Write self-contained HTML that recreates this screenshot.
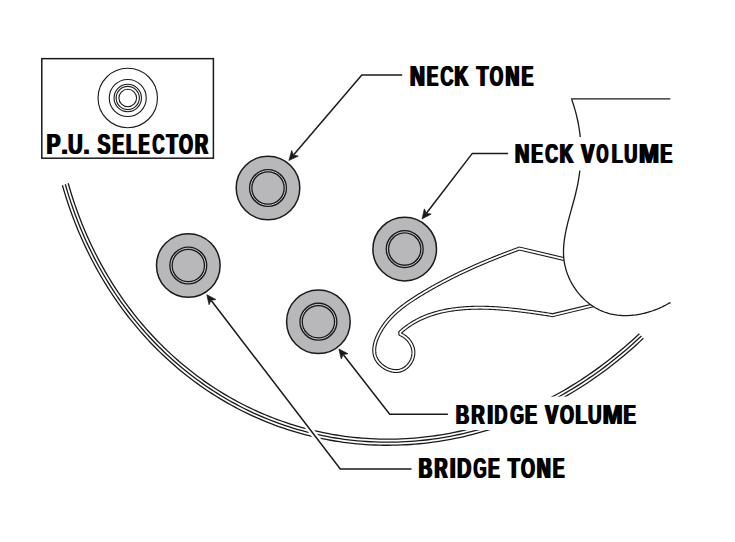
<!DOCTYPE html>
<html><head><meta charset="utf-8"><style>
html,body{margin:0;padding:0;background:#fff;width:735px;height:542px;overflow:hidden}
svg{display:block}
text{font-family:"Liberation Sans",sans-serif;font-weight:bold}
</style></head><body>
<svg width="735" height="542" viewBox="0 0 735 542">
<rect width="735" height="542" fill="#fff"/>
<path d="M68.18 183.23 L69.49 187.76 L70.84 192.27 L72.25 196.75 L73.71 201.21 L75.22 205.65 L76.77 210.06 L78.38 214.45 L80.04 218.81 L81.74 223.15 L83.50 227.46 L85.30 231.73 L87.16 235.99 L89.06 240.21 L91.01 244.40 L93.00 248.56 L95.05 252.69 L97.14 256.79 L99.28 260.86 L101.46 264.89 L103.69 268.89 L105.97 272.85 L108.29 276.79 L110.66 280.68 L113.07 284.54 L115.53 288.37 L118.03 292.15 L120.58 295.90 L123.16 299.61 L125.80 303.29 L128.47 306.92 L131.19 310.51 L133.94 314.07 L136.74 317.58 L139.58 321.05 L142.46 324.48 L145.39 327.87 L148.35 331.22 L151.35 334.52 L154.39 337.78 L157.46 340.99 L160.58 344.16 L163.73 347.29 L166.92 350.37 L170.15 353.40 L173.41 356.38 L176.71 359.32 L180.04 362.22 L183.41 365.06 L186.81 367.86 L190.25 370.60 L193.72 373.30 L197.22 375.95 L200.76 378.55 L204.32 381.10 L207.92 383.60 L211.54 386.04 L215.20 388.44 L218.89 390.78 L222.60 393.08 L226.35 395.32 L230.12 397.50 L233.92 399.64 L237.74 401.72 L241.59 403.75 L245.47 405.72 L249.37 407.64 L253.30 409.50 L257.25 411.31 L261.23 413.07 L265.22 414.77 L269.24 416.41 L273.28 418.00 L277.34 419.54 L281.42 421.01 L285.53 422.43 L289.65 423.80 L293.78 425.10 L297.94 426.35 L302.12 427.54 L306.31 428.68 L310.51 429.75 L314.74 430.77 L318.97 431.74 L323.22 432.64 L327.49 433.48 L331.77 434.27 L336.06 435.00 L340.36 435.67 L344.67 436.28 L348.99 436.83 L353.33 437.33 L357.67 437.76 L362.02 438.14 L366.38 438.46 L370.74 438.72 L375.12 438.92 L379.49 439.06 L383.88 439.14 L388.26 439.16 L392.66 439.12 L397.05 439.03 L401.45 438.87 L405.85 438.66 L410.25 438.38 L414.65 438.05 L419.06 437.66 L423.46 437.21 L427.86 436.70 L432.26 436.13 L436.65 435.50 L441.05 434.82 L445.44 434.08 L449.82 433.27 L454.20 432.41 L458.58 431.49 L462.94 430.52 L467.30 429.48 L471.66 428.39 L476.00 427.24 L480.34 426.04 L484.67 424.77 L488.98 423.45 L493.29 422.07 L497.58 420.64 L501.86 419.15 L506.13 417.60 L510.39 416.00 L514.63 414.34 L518.86 412.63 L523.07 410.86 L527.27 409.03 L531.45 407.15 L535.61 405.22 L539.75 403.23 L543.88 401.19 L547.99 399.10 L552.07 396.95 L556.14 394.75 L560.19 392.49 L564.22 390.19 L568.22 387.83 L572.20 385.42 L576.16 382.96 L580.10 380.45 L584.01 377.89 L587.89 375.28 L591.75 372.61 L595.59 369.90 L599.39 367.14 L603.18 364.33 L606.93 361.48 L610.65 358.57 L614.35 355.62 L618.02 352.62 L621.65 349.58 L625.26 346.49 L628.84 343.35 L632.38 340.17 L635.89 336.95 L639.37 333.68" fill="none" stroke="#1a1a1a" stroke-width="1.3"/><path d="M65.30 184.23 L66.62 188.80 L67.99 193.34 L69.41 197.86 L70.88 202.36 L72.40 206.83 L73.97 211.27 L75.59 215.70 L77.27 220.09 L78.99 224.46 L80.76 228.80 L82.58 233.11 L84.45 237.40 L86.37 241.65 L88.34 245.87 L90.35 250.07 L92.41 254.23 L94.52 258.36 L96.68 262.46 L98.89 266.52 L101.14 270.55 L103.43 274.55 L105.78 278.51 L108.17 282.44 L110.60 286.33 L113.08 290.18 L115.60 294.00 L118.17 297.78 L120.78 301.52 L123.44 305.22 L126.13 308.88 L128.87 312.51 L131.66 316.09 L134.48 319.63 L137.35 323.13 L140.25 326.58 L143.20 330.00 L146.19 333.37 L149.21 336.70 L152.28 339.98 L155.38 343.22 L158.53 346.42 L161.71 349.57 L164.92 352.67 L168.18 355.73 L171.47 358.74 L174.80 361.70 L178.16 364.61 L181.56 367.48 L184.99 370.30 L188.46 373.07 L191.95 375.79 L195.49 378.46 L199.05 381.08 L202.65 383.65 L206.28 386.17 L209.93 388.63 L213.62 391.05 L217.34 393.41 L221.09 395.72 L224.86 397.98 L228.67 400.19 L232.50 402.34 L236.36 404.44 L240.24 406.48 L244.15 408.47 L248.09 410.41 L252.05 412.29 L256.03 414.11 L260.04 415.88 L264.07 417.59 L268.13 419.25 L272.20 420.85 L276.30 422.40 L280.41 423.89 L284.55 425.32 L288.70 426.70 L292.88 428.01 L297.07 429.27 L301.28 430.48 L305.51 431.62 L309.75 432.71 L314.01 433.74 L318.28 434.71 L322.57 435.62 L326.87 436.47 L331.18 437.27 L335.51 438.00 L339.85 438.68 L344.20 439.29 L348.56 439.85 L352.93 440.35 L357.30 440.79 L361.69 441.17 L366.09 441.49 L370.49 441.76 L374.90 441.96 L379.31 442.10 L383.73 442.18 L388.16 442.21 L392.59 442.17 L397.02 442.07 L401.46 441.92 L405.89 441.71 L410.33 441.43 L414.77 441.10 L419.21 440.70 L423.65 440.25 L428.09 439.74 L432.52 439.17 L436.95 438.54 L441.39 437.85 L445.81 437.10 L450.23 436.30 L454.65 435.43 L459.06 434.51 L463.46 433.52 L467.86 432.48 L472.25 431.38 L476.63 430.23 L481.01 429.01 L485.37 427.74 L489.72 426.41 L494.06 425.02 L498.39 423.58 L502.71 422.08 L507.01 420.52 L511.30 418.91 L515.58 417.24 L519.84 415.51 L524.09 413.73 L528.32 411.89 L532.54 410.00 L536.73 408.05 L540.91 406.05 L545.07 404.00 L549.21 401.89 L553.34 399.73 L557.44 397.51 L561.52 395.24 L565.58 392.92 L569.61 390.54 L573.63 388.12 L577.62 385.64 L581.59 383.11 L585.53 380.53 L589.45 377.90 L593.34 375.22 L597.21 372.49 L601.05 369.71 L604.86 366.88 L608.64 364.00 L612.40 361.08 L616.12 358.10 L619.82 355.08 L623.49 352.02 L627.12 348.91 L630.73 345.75 L634.30 342.54 L637.84 339.29 L641.35 336.00" fill="none" stroke="#1a1a1a" stroke-width="1.3"/><path d="M62.42 185.23 L63.75 189.83 L65.13 194.41 L66.57 198.97 L68.05 203.50 L69.59 208.00 L71.17 212.48 L72.81 216.94 L74.50 221.37 L76.23 225.77 L78.02 230.14 L79.86 234.49 L81.75 238.81 L83.68 243.09 L85.67 247.35 L87.70 251.58 L89.78 255.77 L91.91 259.93 L94.09 264.06 L96.31 268.16 L98.58 272.22 L100.90 276.25 L103.26 280.24 L105.67 284.20 L108.13 288.12 L110.63 292.00 L113.18 295.85 L115.77 299.65 L118.40 303.42 L121.08 307.15 L123.80 310.85 L126.56 314.50 L129.37 318.11 L132.22 321.67 L135.11 325.20 L138.04 328.69 L141.01 332.13 L144.03 335.52 L147.08 338.88 L150.17 342.19 L153.30 345.45 L156.47 348.67 L159.68 351.85 L162.93 354.97 L166.21 358.06 L169.53 361.09 L172.89 364.08 L176.28 367.01 L179.70 369.90 L183.17 372.74 L186.66 375.53 L190.19 378.28 L193.75 380.97 L197.35 383.61 L200.97 386.20 L204.63 388.74 L208.32 391.22 L212.04 393.66 L215.79 396.04 L219.57 398.37 L223.38 400.65 L227.22 402.87 L231.08 405.04 L234.97 407.15 L238.89 409.21 L242.83 411.22 L246.80 413.17 L250.80 415.07 L254.82 416.91 L258.86 418.69 L262.92 420.42 L267.01 422.09 L271.12 423.71 L275.25 425.27 L279.40 426.77 L283.57 428.21 L287.76 429.60 L291.97 430.93 L296.20 432.20 L300.45 433.41 L304.71 434.56 L308.99 435.66 L313.28 436.70 L317.59 437.68 L321.91 438.60 L326.25 439.46 L330.60 440.26 L334.96 441.00 L339.34 441.68 L343.72 442.31 L348.12 442.87 L352.52 443.38 L356.94 443.82 L361.36 444.21 L365.80 444.53 L370.24 444.79 L374.68 445.00 L379.13 445.14 L383.59 445.23 L388.05 445.25 L392.52 445.22 L396.99 445.12 L401.46 444.97 L405.93 444.75 L410.41 444.48 L414.89 444.14 L419.36 443.75 L423.84 443.30 L428.31 442.78 L432.79 442.21 L437.26 441.57 L441.72 440.88 L446.19 440.13 L450.64 439.32 L455.10 438.45 L459.54 437.52 L463.99 436.53 L468.42 435.48 L472.85 434.38 L477.26 433.21 L481.67 431.99 L486.07 430.71 L490.46 429.37 L494.83 427.97 L499.20 426.52 L503.55 425.01 L507.89 423.44 L512.22 421.82 L516.53 420.14 L520.83 418.40 L525.11 416.60 L529.38 414.75 L533.63 412.85 L537.86 410.89 L542.07 408.87 L546.27 406.80 L550.44 404.68 L554.60 402.50 L558.73 400.27 L562.85 397.98 L566.94 395.65 L571.01 393.26 L575.06 390.81 L579.08 388.32 L583.08 385.77 L587.05 383.17 L591.00 380.52 L594.93 377.82 L598.83 375.07 L602.70 372.27 L606.54 369.42 L610.35 366.53 L614.14 363.58 L617.90 360.59 L621.62 357.54 L625.32 354.46 L628.99 351.32 L632.62 348.14 L636.22 344.91 L639.79 341.64 L643.33 338.32" fill="none" stroke="#1a1a1a" stroke-width="1.3"/>
<path d="M620 272.4 L519.50 248.50 L518.67 248.84 L517.83 249.15 L516.98 249.46 L516.14 249.77 L515.30 250.08 L514.46 250.39 L513.62 250.70 L512.78 251.01 L511.94 251.33 L511.09 251.64 L510.25 251.96 L509.42 252.27 L508.58 252.59 L507.74 252.91 L506.90 253.23 L506.06 253.55 L505.22 253.87 L504.38 254.19 L503.55 254.51 L502.71 254.84 L501.87 255.16 L501.04 255.49 L500.20 255.82 L499.37 256.15 L498.53 256.48 L497.70 256.81 L496.86 257.14 L496.03 257.47 L495.20 257.80 L494.36 258.14 L493.53 258.47 L492.70 258.81 L491.87 259.15 L491.04 259.49 L490.21 259.83 L489.38 260.17 L488.55 260.51 L487.72 260.86 L486.89 261.20 L486.06 261.55 L485.23 261.90 L484.41 262.24 L483.58 262.59 L482.75 262.94 L481.93 263.30 L481.10 263.65 L480.28 264.00 L479.46 264.36 L478.63 264.72 L477.81 265.07 L476.99 265.43 L476.17 265.79 L475.35 266.16 L474.53 266.52 L473.71 266.88 L472.89 267.25 L472.07 267.62 L471.25 267.99 L470.43 268.35 L469.62 268.73 L468.80 269.10 L467.98 269.47 L467.17 269.85 L466.35 270.22 L465.54 270.60 L464.73 270.98 L463.92 271.36 L463.10 271.74 L462.29 272.12 L461.48 272.51 L460.67 272.90 L459.86 273.28 L459.06 273.67 L458.25 274.06 L457.44 274.45 L456.64 274.85 L455.83 275.24 L455.03 275.64 L454.22 276.03 L453.42 276.43 L452.62 276.83 L451.81 277.24 L451.01 277.64 L450.21 278.04 L449.41 278.45 L448.61 278.86 L447.82 279.27 L447.02 279.68 L446.22 280.09 L445.43 280.50 L444.63 280.92 L443.84 281.34 L443.04 281.76 L442.25 282.18 L441.46 282.60 L440.67 283.02 L439.88 283.45 L439.09 283.87 L438.30 284.30 L437.52 284.73 L436.73 285.16 L435.94 285.60 L435.16 286.03 L434.37 286.47 L433.59 286.90 L432.81 287.34 L432.03 287.79 L431.25 288.23 L430.47 288.67 L429.69 289.12 L428.91 289.57 L428.13 290.02 L427.36 290.47 L426.58 290.92 L425.81 291.38 L425.04 291.84 L424.26 292.29 L423.49 292.75 L422.72 293.22 L421.95 293.68 L421.19 294.15 L420.42 294.61 L419.65 295.08 L418.89 295.55 L418.12 296.03 L417.36 296.50 L416.60 296.98 L415.84 297.46 L415.08 297.94 L414.32 298.43 L413.57 298.92 L412.82 299.41 L412.07 299.90 L411.32 300.40 L410.58 300.90 L409.83 301.40 L409.09 301.91 L408.36 302.42 L407.62 302.93 L406.89 303.45 L406.17 303.97 L405.44 304.50 L404.72 305.03 L404.01 305.56 L403.29 306.10 L402.59 306.65 L401.88 307.20 L401.18 307.75 L400.49 308.31 L399.79 308.87 L399.11 309.44 L398.43 310.02 L397.75 310.60 L397.08 311.18 L396.41 311.77 L395.75 312.37 L395.09 312.97 L394.44 313.58 L393.79 314.20 L393.15 314.82 L392.52 315.45 L391.89 316.08 L391.27 316.73 L390.66 317.38 L390.05 318.03 L389.45 318.69 L388.85 319.36 L388.26 320.04 L387.68 320.73 L387.11 321.42 L386.54 322.12 L385.98 322.83 L385.43 323.55 L384.89 324.27 L384.35 325.00 L383.82 325.74 L383.30 326.49 L382.79 327.25 L382.28 328.02 L381.79 328.80 L381.30 329.58 L380.82 330.38 L380.35 331.18 L379.89 331.99 L379.44 332.81 L379.00 333.64 L378.58 334.47 L378.17 335.32 L377.77 336.16 L377.39 337.02 L377.02 337.87 L376.68 338.74 L376.35 339.60 L376.04 340.47 L375.75 341.34 L375.49 342.21 L375.24 343.08 L375.02 343.95 L374.83 344.82 L374.66 345.69 L374.52 346.56 L374.41 347.43 L374.32 348.29 L374.27 349.15 L374.25 350.01 L374.26 350.86 L374.30 351.71 L374.37 352.55 L374.49 353.39 L374.63 354.21 L374.82 355.03 L375.04 355.84 L375.30 356.65 L375.61 357.44 L375.95 358.22 L376.34 358.99 L376.76 359.75 L377.23 360.50 L377.74 361.23 L378.29 361.95 L378.87 362.65 L379.48 363.33 L380.13 364.00 L380.80 364.64 L381.51 365.26 L382.24 365.85 L382.99 366.42 L383.77 366.96 L384.56 367.48 L385.38 367.97 L386.21 368.42 L387.06 368.85 L387.91 369.24 L388.79 369.60 L389.67 369.92 L390.55 370.20 L391.45 370.45 L392.35 370.65 L393.25 370.82 L394.15 370.94 L395.04 371.01 L395.94 371.05 L396.83 371.03 L397.71 370.97 L398.58 370.86 L399.45 370.70 L400.30 370.48 L401.13 370.22 L401.95 369.90 L402.75 369.55 L403.54 369.14 L404.30 368.69 L405.05 368.20 L405.77 367.68 L406.47 367.11 L407.14 366.51 L407.79 365.88 L408.41 365.22 L408.99 364.52 L409.55 363.80 L410.08 363.06 L410.57 362.28 L411.03 361.49 L411.45 360.68 L411.84 359.85 L412.18 359.01 L412.49 358.15 L412.75 357.27 L412.97 356.39 L413.15 355.50 L413.28 354.60 L413.36 353.70 L413.40 352.80 L413.38 351.89 L413.32 350.99 L413.20 350.09 L413.04 349.19 L412.83 348.31 L412.58 347.42 L412.28 346.55 L411.94 345.69 L411.57 344.85 L411.15 344.02 L410.69 343.20 L410.20 342.41 L409.67 341.63 L409.11 340.88 L408.51 340.15 L407.89 339.45 L407.23 338.78 L406.55 338.13 L405.84 337.51 L405.11 336.93 L404.35 336.38 L403.57 335.87 L402.77 335.40 L401.95 334.96 L401.11 334.57 L400.40 334.20 L400.23 332.31 L401.25 331.40 L402.27 330.51 L403.31 329.64 L404.36 328.79 L405.42 327.96 L406.49 327.15 L407.57 326.37 L408.66 325.60 L409.76 324.85 L410.87 324.13 L411.98 323.42 L413.11 322.73 L414.25 322.06 L415.39 321.41 L416.55 320.78 L417.71 320.16 L418.88 319.57 L420.06 318.99 L421.24 318.43 L422.44 317.89 L423.64 317.36 L424.85 316.85 L426.07 316.36 L427.29 315.89 L428.52 315.43 L429.76 314.98 L431.00 314.56 L432.25 314.14 L433.51 313.75 L434.77 313.37 L436.03 313.00 L437.31 312.65 L438.59 312.31 L439.87 311.99 L441.16 311.68 L442.45 311.38 L443.75 311.10 L445.05 310.83 L446.36 310.57 L447.67 310.33 L448.99 310.09 L450.31 309.88 L451.63 309.67 L452.96 309.47 L454.29 309.29 L455.62 309.12 L456.95 308.95 L458.29 308.80 L459.63 308.66 L460.98 308.53 L462.32 308.41 L463.67 308.30 L465.02 308.21 L466.37 308.12 L467.72 308.03 L469.08 307.96 L470.43 307.90 L471.79 307.85 L473.15 307.81 L474.51 307.77 L475.88 307.74 L477.24 307.73 L478.60 307.72 L479.97 307.71 L481.33 307.72 L482.70 307.73 L484.07 307.75 L485.43 307.78 L486.80 307.82 L488.17 307.86 L489.54 307.91 L490.90 307.97 L492.27 308.03 L493.64 308.10 L495.01 308.18 L496.37 308.26 L497.74 308.35 L499.11 308.44 L500.47 308.54 L501.83 308.64 L503.20 308.75 L504.56 308.87 L505.92 308.99 L507.28 309.11 L508.64 309.24 L509.99 309.37 L511.35 309.51 L512.70 309.65 L514.05 309.80 L515.40 309.95 L516.75 310.10 L518.09 310.26 L519.44 310.42 L520.78 310.58 L522.12 310.75 L523.45 310.91 L524.78 311.09 L526.11 311.26 L527.44 311.43 L528.76 311.61 L530.08 311.79 L531.40 311.97 L532.72 312.16 L534.03 312.34 L535.33 312.53 L536.64 312.72 L537.94 312.90 L539.23 313.09 L540.52 313.28 L541.81 313.47 L543.09 313.66 L544.37 313.85 L545.65 314.04 L546.92 314.23 L548.18 314.42 L549.44 314.61 L550.70 314.80 L552.30 315.30 L620 298.9" fill="none" stroke="#1a1a1a" stroke-width="4.0" stroke-linejoin="miter" stroke-miterlimit="10"/>
<path d="M620 272.4 L519.50 248.50 L518.67 248.84 L517.83 249.15 L516.98 249.46 L516.14 249.77 L515.30 250.08 L514.46 250.39 L513.62 250.70 L512.78 251.01 L511.94 251.33 L511.09 251.64 L510.25 251.96 L509.42 252.27 L508.58 252.59 L507.74 252.91 L506.90 253.23 L506.06 253.55 L505.22 253.87 L504.38 254.19 L503.55 254.51 L502.71 254.84 L501.87 255.16 L501.04 255.49 L500.20 255.82 L499.37 256.15 L498.53 256.48 L497.70 256.81 L496.86 257.14 L496.03 257.47 L495.20 257.80 L494.36 258.14 L493.53 258.47 L492.70 258.81 L491.87 259.15 L491.04 259.49 L490.21 259.83 L489.38 260.17 L488.55 260.51 L487.72 260.86 L486.89 261.20 L486.06 261.55 L485.23 261.90 L484.41 262.24 L483.58 262.59 L482.75 262.94 L481.93 263.30 L481.10 263.65 L480.28 264.00 L479.46 264.36 L478.63 264.72 L477.81 265.07 L476.99 265.43 L476.17 265.79 L475.35 266.16 L474.53 266.52 L473.71 266.88 L472.89 267.25 L472.07 267.62 L471.25 267.99 L470.43 268.35 L469.62 268.73 L468.80 269.10 L467.98 269.47 L467.17 269.85 L466.35 270.22 L465.54 270.60 L464.73 270.98 L463.92 271.36 L463.10 271.74 L462.29 272.12 L461.48 272.51 L460.67 272.90 L459.86 273.28 L459.06 273.67 L458.25 274.06 L457.44 274.45 L456.64 274.85 L455.83 275.24 L455.03 275.64 L454.22 276.03 L453.42 276.43 L452.62 276.83 L451.81 277.24 L451.01 277.64 L450.21 278.04 L449.41 278.45 L448.61 278.86 L447.82 279.27 L447.02 279.68 L446.22 280.09 L445.43 280.50 L444.63 280.92 L443.84 281.34 L443.04 281.76 L442.25 282.18 L441.46 282.60 L440.67 283.02 L439.88 283.45 L439.09 283.87 L438.30 284.30 L437.52 284.73 L436.73 285.16 L435.94 285.60 L435.16 286.03 L434.37 286.47 L433.59 286.90 L432.81 287.34 L432.03 287.79 L431.25 288.23 L430.47 288.67 L429.69 289.12 L428.91 289.57 L428.13 290.02 L427.36 290.47 L426.58 290.92 L425.81 291.38 L425.04 291.84 L424.26 292.29 L423.49 292.75 L422.72 293.22 L421.95 293.68 L421.19 294.15 L420.42 294.61 L419.65 295.08 L418.89 295.55 L418.12 296.03 L417.36 296.50 L416.60 296.98 L415.84 297.46 L415.08 297.94 L414.32 298.43 L413.57 298.92 L412.82 299.41 L412.07 299.90 L411.32 300.40 L410.58 300.90 L409.83 301.40 L409.09 301.91 L408.36 302.42 L407.62 302.93 L406.89 303.45 L406.17 303.97 L405.44 304.50 L404.72 305.03 L404.01 305.56 L403.29 306.10 L402.59 306.65 L401.88 307.20 L401.18 307.75 L400.49 308.31 L399.79 308.87 L399.11 309.44 L398.43 310.02 L397.75 310.60 L397.08 311.18 L396.41 311.77 L395.75 312.37 L395.09 312.97 L394.44 313.58 L393.79 314.20 L393.15 314.82 L392.52 315.45 L391.89 316.08 L391.27 316.73 L390.66 317.38 L390.05 318.03 L389.45 318.69 L388.85 319.36 L388.26 320.04 L387.68 320.73 L387.11 321.42 L386.54 322.12 L385.98 322.83 L385.43 323.55 L384.89 324.27 L384.35 325.00 L383.82 325.74 L383.30 326.49 L382.79 327.25 L382.28 328.02 L381.79 328.80 L381.30 329.58 L380.82 330.38 L380.35 331.18 L379.89 331.99 L379.44 332.81 L379.00 333.64 L378.58 334.47 L378.17 335.32 L377.77 336.16 L377.39 337.02 L377.02 337.87 L376.68 338.74 L376.35 339.60 L376.04 340.47 L375.75 341.34 L375.49 342.21 L375.24 343.08 L375.02 343.95 L374.83 344.82 L374.66 345.69 L374.52 346.56 L374.41 347.43 L374.32 348.29 L374.27 349.15 L374.25 350.01 L374.26 350.86 L374.30 351.71 L374.37 352.55 L374.49 353.39 L374.63 354.21 L374.82 355.03 L375.04 355.84 L375.30 356.65 L375.61 357.44 L375.95 358.22 L376.34 358.99 L376.76 359.75 L377.23 360.50 L377.74 361.23 L378.29 361.95 L378.87 362.65 L379.48 363.33 L380.13 364.00 L380.80 364.64 L381.51 365.26 L382.24 365.85 L382.99 366.42 L383.77 366.96 L384.56 367.48 L385.38 367.97 L386.21 368.42 L387.06 368.85 L387.91 369.24 L388.79 369.60 L389.67 369.92 L390.55 370.20 L391.45 370.45 L392.35 370.65 L393.25 370.82 L394.15 370.94 L395.04 371.01 L395.94 371.05 L396.83 371.03 L397.71 370.97 L398.58 370.86 L399.45 370.70 L400.30 370.48 L401.13 370.22 L401.95 369.90 L402.75 369.55 L403.54 369.14 L404.30 368.69 L405.05 368.20 L405.77 367.68 L406.47 367.11 L407.14 366.51 L407.79 365.88 L408.41 365.22 L408.99 364.52 L409.55 363.80 L410.08 363.06 L410.57 362.28 L411.03 361.49 L411.45 360.68 L411.84 359.85 L412.18 359.01 L412.49 358.15 L412.75 357.27 L412.97 356.39 L413.15 355.50 L413.28 354.60 L413.36 353.70 L413.40 352.80 L413.38 351.89 L413.32 350.99 L413.20 350.09 L413.04 349.19 L412.83 348.31 L412.58 347.42 L412.28 346.55 L411.94 345.69 L411.57 344.85 L411.15 344.02 L410.69 343.20 L410.20 342.41 L409.67 341.63 L409.11 340.88 L408.51 340.15 L407.89 339.45 L407.23 338.78 L406.55 338.13 L405.84 337.51 L405.11 336.93 L404.35 336.38 L403.57 335.87 L402.77 335.40 L401.95 334.96 L401.11 334.57 L400.40 334.20 L400.23 332.31 L401.25 331.40 L402.27 330.51 L403.31 329.64 L404.36 328.79 L405.42 327.96 L406.49 327.15 L407.57 326.37 L408.66 325.60 L409.76 324.85 L410.87 324.13 L411.98 323.42 L413.11 322.73 L414.25 322.06 L415.39 321.41 L416.55 320.78 L417.71 320.16 L418.88 319.57 L420.06 318.99 L421.24 318.43 L422.44 317.89 L423.64 317.36 L424.85 316.85 L426.07 316.36 L427.29 315.89 L428.52 315.43 L429.76 314.98 L431.00 314.56 L432.25 314.14 L433.51 313.75 L434.77 313.37 L436.03 313.00 L437.31 312.65 L438.59 312.31 L439.87 311.99 L441.16 311.68 L442.45 311.38 L443.75 311.10 L445.05 310.83 L446.36 310.57 L447.67 310.33 L448.99 310.09 L450.31 309.88 L451.63 309.67 L452.96 309.47 L454.29 309.29 L455.62 309.12 L456.95 308.95 L458.29 308.80 L459.63 308.66 L460.98 308.53 L462.32 308.41 L463.67 308.30 L465.02 308.21 L466.37 308.12 L467.72 308.03 L469.08 307.96 L470.43 307.90 L471.79 307.85 L473.15 307.81 L474.51 307.77 L475.88 307.74 L477.24 307.73 L478.60 307.72 L479.97 307.71 L481.33 307.72 L482.70 307.73 L484.07 307.75 L485.43 307.78 L486.80 307.82 L488.17 307.86 L489.54 307.91 L490.90 307.97 L492.27 308.03 L493.64 308.10 L495.01 308.18 L496.37 308.26 L497.74 308.35 L499.11 308.44 L500.47 308.54 L501.83 308.64 L503.20 308.75 L504.56 308.87 L505.92 308.99 L507.28 309.11 L508.64 309.24 L509.99 309.37 L511.35 309.51 L512.70 309.65 L514.05 309.80 L515.40 309.95 L516.75 310.10 L518.09 310.26 L519.44 310.42 L520.78 310.58 L522.12 310.75 L523.45 310.91 L524.78 311.09 L526.11 311.26 L527.44 311.43 L528.76 311.61 L530.08 311.79 L531.40 311.97 L532.72 312.16 L534.03 312.34 L535.33 312.53 L536.64 312.72 L537.94 312.90 L539.23 313.09 L540.52 313.28 L541.81 313.47 L543.09 313.66 L544.37 313.85 L545.65 314.04 L546.92 314.23 L548.18 314.42 L549.44 314.61 L550.70 314.80 L552.30 315.30 L620 298.9" fill="none" stroke="#fff" stroke-width="1.8" stroke-linejoin="miter" stroke-miterlimit="10"/>
<path d="M671 98.9 L571.80 98.90 L572.02 100.37 L572.55 101.92 L573.06 103.47 L573.56 105.02 L574.04 106.55 L574.50 108.09 L574.95 109.62 L575.38 111.15 L575.79 112.67 L576.19 114.20 L576.57 115.71 L576.93 117.23 L577.28 118.74 L577.61 120.25 L577.92 121.75 L578.22 123.25 L578.50 124.75 L578.77 126.25 L579.02 127.75 L579.26 129.24 L579.48 130.73 L579.68 132.22 L579.87 133.70 L580.04 135.19 L580.20 136.67 L580.35 138.15 L580.47 139.63 L580.59 141.11 L580.69 142.58 L580.77 144.06 L580.84 145.53 L580.89 147.00 L580.93 148.47 L580.96 149.94 L580.97 151.41 L580.97 152.88 L580.95 154.35 L580.92 155.82 L580.88 157.29 L580.82 158.76 L580.74 160.22 L580.66 161.69 L580.56 163.16 L580.44 164.63 L580.32 166.10 L580.18 167.57 L580.02 169.04 L579.86 170.51 L579.68 171.98 L579.48 173.45 L579.28 174.92 L579.06 176.40 L578.83 177.88 L578.59 179.35 L578.33 180.83 L578.06 182.31 L577.78 183.79 L577.49 185.28 L577.18 186.76 L576.86 188.25 L576.53 189.74 L576.19 191.23 L575.84 192.73 L575.47 194.22 L575.10 195.72 L574.71 197.22 L574.32 198.73 L573.92 200.23 L573.51 201.74 L573.10 203.25 L572.69 204.76 L572.27 206.27 L571.84 207.78 L571.42 209.30 L571.00 210.81 L570.58 212.33 L570.16 213.84 L569.74 215.36 L569.33 216.87 L568.93 218.39 L568.53 219.91 L568.13 221.43 L567.75 222.94 L567.38 224.46 L567.01 225.98 L566.66 227.49 L566.32 229.01 L566.00 230.52 L565.69 232.03 L565.39 233.54 L565.12 235.05 L564.86 236.56 L564.62 238.07 L564.40 239.58 L564.20 241.08 L564.03 242.58 L563.87 244.08 L563.75 245.58 L563.65 247.07 L563.57 248.57 L563.52 250.06 L563.50 251.54 L563.51 253.03 L563.56 254.51 L563.63 255.98 L563.74 257.46 L563.88 258.93 L564.05 260.40 L564.27 261.86 L564.52 263.32 L564.80 264.77 L565.12 266.22 L565.47 267.66 L565.86 269.09 L566.28 270.52 L566.73 271.94 L567.22 273.34 L567.73 274.74 L568.28 276.12 L568.87 277.50 L569.48 278.86 L570.12 280.21 L570.80 281.54 L571.50 282.86 L572.23 284.16 L572.99 285.45 L573.78 286.72 L574.60 287.97 L575.45 289.21 L576.32 290.42 L577.22 291.62 L578.14 292.79 L579.09 293.95 L580.07 295.08 L581.07 296.19 L582.09 297.28 L583.14 298.34 L584.22 299.37 L585.31 300.39 L586.43 301.37 L587.57 302.33 L588.74 303.26 L589.92 304.16 L591.13 305.03 L592.35 305.88 L593.60 306.69 L594.86 307.47 L596.15 308.22 L597.45 308.93 L598.77 309.61 L600.11 310.26 L601.47 310.87 L602.85 311.45 L604.24 311.99 L605.64 312.49 L607.07 312.95 L608.51 313.38 L609.96 313.77 L611.43 314.11 L612.91 314.42 L614.40 314.70 L615.90 314.93 L617.42 315.13 L618.94 315.29 L620.47 315.42 L622.01 315.51 L623.55 315.56 L625.10 315.58 L626.65 315.57 L628.21 315.53 L629.77 315.45 L631.33 315.34 L632.89 315.20 L634.46 315.03 L636.02 314.83 L637.57 314.59 L639.13 314.33 L640.68 314.04 L642.22 313.72 L643.76 313.38 L645.30 313.00 L646.82 312.60 L648.34 312.18 L649.84 311.73 L651.34 311.25 L652.82 310.75 L654.29 310.22 L655.75 309.67 L657.19 309.10 L658.61 308.50 L660.02 307.88 L661.42 307.25 L662.79 306.59 L664.14 305.91 L665.48 305.21 L666.79 304.49 L668.08 303.75 L669.35 302.99 L670.70 302.80 L671 302.8 Z" fill="#fff" stroke="none"/>
<path d="M670.3 98.9 L571.80 98.90 L572.02 100.37 L572.55 101.92 L573.06 103.47 L573.56 105.02 L574.04 106.55 L574.50 108.09 L574.95 109.62 L575.38 111.15 L575.79 112.67 L576.19 114.20 L576.57 115.71 L576.93 117.23 L577.28 118.74 L577.61 120.25 L577.92 121.75 L578.22 123.25 L578.50 124.75 L578.77 126.25 L579.02 127.75 L579.26 129.24 L579.48 130.73 L579.68 132.22 L579.87 133.70 L580.04 135.19 L580.20 136.67 L580.35 138.15 L580.47 139.63 L580.59 141.11 L580.69 142.58 L580.77 144.06 L580.84 145.53 L580.89 147.00 L580.93 148.47 L580.96 149.94 L580.97 151.41 L580.97 152.88 L580.95 154.35 L580.92 155.82 L580.88 157.29 L580.82 158.76 L580.74 160.22 L580.66 161.69 L580.56 163.16 L580.44 164.63 L580.32 166.10 L580.18 167.57 L580.02 169.04 L579.86 170.51 L579.68 171.98 L579.48 173.45 L579.28 174.92 L579.06 176.40 L578.83 177.88 L578.59 179.35 L578.33 180.83 L578.06 182.31 L577.78 183.79 L577.49 185.28 L577.18 186.76 L576.86 188.25 L576.53 189.74 L576.19 191.23 L575.84 192.73 L575.47 194.22 L575.10 195.72 L574.71 197.22 L574.32 198.73 L573.92 200.23 L573.51 201.74 L573.10 203.25 L572.69 204.76 L572.27 206.27 L571.84 207.78 L571.42 209.30 L571.00 210.81 L570.58 212.33 L570.16 213.84 L569.74 215.36 L569.33 216.87 L568.93 218.39 L568.53 219.91 L568.13 221.43 L567.75 222.94 L567.38 224.46 L567.01 225.98 L566.66 227.49 L566.32 229.01 L566.00 230.52 L565.69 232.03 L565.39 233.54 L565.12 235.05 L564.86 236.56 L564.62 238.07 L564.40 239.58 L564.20 241.08 L564.03 242.58 L563.87 244.08 L563.75 245.58 L563.65 247.07 L563.57 248.57 L563.52 250.06 L563.50 251.54 L563.51 253.03 L563.56 254.51 L563.63 255.98 L563.74 257.46 L563.88 258.93 L564.05 260.40 L564.27 261.86 L564.52 263.32 L564.80 264.77 L565.12 266.22 L565.47 267.66 L565.86 269.09 L566.28 270.52 L566.73 271.94 L567.22 273.34 L567.73 274.74 L568.28 276.12 L568.87 277.50 L569.48 278.86 L570.12 280.21 L570.80 281.54 L571.50 282.86 L572.23 284.16 L572.99 285.45 L573.78 286.72 L574.60 287.97 L575.45 289.21 L576.32 290.42 L577.22 291.62 L578.14 292.79 L579.09 293.95 L580.07 295.08 L581.07 296.19 L582.09 297.28 L583.14 298.34 L584.22 299.37 L585.31 300.39 L586.43 301.37 L587.57 302.33 L588.74 303.26 L589.92 304.16 L591.13 305.03 L592.35 305.88 L593.60 306.69 L594.86 307.47 L596.15 308.22 L597.45 308.93 L598.77 309.61 L600.11 310.26 L601.47 310.87 L602.85 311.45 L604.24 311.99 L605.64 312.49 L607.07 312.95 L608.51 313.38 L609.96 313.77 L611.43 314.11 L612.91 314.42 L614.40 314.70 L615.90 314.93 L617.42 315.13 L618.94 315.29 L620.47 315.42 L622.01 315.51 L623.55 315.56 L625.10 315.58 L626.65 315.57 L628.21 315.53 L629.77 315.45 L631.33 315.34 L632.89 315.20 L634.46 315.03 L636.02 314.83 L637.57 314.59 L639.13 314.33 L640.68 314.04 L642.22 313.72 L643.76 313.38 L645.30 313.00 L646.82 312.60 L648.34 312.18 L649.84 311.73 L651.34 311.25 L652.82 310.75 L654.29 310.22 L655.75 309.67 L657.19 309.10 L658.61 308.50 L660.02 307.88 L661.42 307.25 L662.79 306.59 L664.14 305.91 L665.48 305.21 L666.79 304.49 L668.08 303.75 L669.35 302.99 L670.70 302.80" fill="none" stroke="#1a1a1a" stroke-width="1.3" stroke-linejoin="miter"/>
<rect x="508" y="137" width="170" height="33.5" fill="#fff"/>
<rect x="448" y="396.6" width="195" height="33.4" fill="#fff"/>
<circle cx="268.00" cy="188.00" r="31.8" fill="#b8b8ba" stroke="#1a1a1a" stroke-width="1.5"/><circle cx="268.00" cy="188.00" r="17.3" fill="none" stroke="#1a1a1a" stroke-width="3.6"/><circle cx="268.00" cy="188.00" r="17.3" fill="none" stroke="#cacaca" stroke-width="1.0"/>
<circle cx="404.70" cy="249.10" r="31.8" fill="#b8b8ba" stroke="#1a1a1a" stroke-width="1.5"/><circle cx="404.70" cy="249.10" r="17.3" fill="none" stroke="#1a1a1a" stroke-width="3.6"/><circle cx="404.70" cy="249.10" r="17.3" fill="none" stroke="#cacaca" stroke-width="1.0"/>
<circle cx="188.30" cy="265.50" r="31.8" fill="#b8b8ba" stroke="#1a1a1a" stroke-width="1.5"/><circle cx="188.30" cy="265.50" r="17.3" fill="none" stroke="#1a1a1a" stroke-width="3.6"/><circle cx="188.30" cy="265.50" r="17.3" fill="none" stroke="#cacaca" stroke-width="1.0"/>
<circle cx="318.40" cy="321.70" r="31.8" fill="#b8b8ba" stroke="#1a1a1a" stroke-width="1.5"/><circle cx="318.40" cy="321.70" r="17.3" fill="none" stroke="#1a1a1a" stroke-width="3.6"/><circle cx="318.40" cy="321.70" r="17.3" fill="none" stroke="#cacaca" stroke-width="1.0"/>
<path d="M402.20 75.00 L361.80 75.00 L293.69 154.81" fill="none" stroke="#1a1a1a" stroke-width="1.5" stroke-linejoin="miter"/><path d="M288.89 160.44 L291.72 150.50 L293.43 155.12 L298.26 156.08 Z" fill="#1a1a1a" stroke="#1a1a1a" stroke-width="0.7" stroke-linejoin="miter" stroke-miterlimit="8"/>
<path d="M508.10 153.40 L472.30 153.40 L426.57 213.05" fill="none" stroke="#1a1a1a" stroke-width="1.5" stroke-linejoin="miter"/><path d="M422.07 218.92 L424.37 208.85 L426.32 213.37 L431.20 214.08 Z" fill="#1a1a1a" stroke="#1a1a1a" stroke-width="0.7" stroke-linejoin="miter" stroke-miterlimit="8"/>
<path d="M325.10 449.15 L297.73 413.43" stroke="#fff" stroke-width="6" fill="none"/><path d="M411.50 469.00 L340.30 469.00 L211.26 300.55" fill="none" stroke="#1a1a1a" stroke-width="1.5" stroke-linejoin="miter"/><path d="M206.76 294.68 L215.89 299.52 L211.02 300.23 L209.07 304.75 Z" fill="#1a1a1a" stroke="#1a1a1a" stroke-width="0.7" stroke-linejoin="miter" stroke-miterlimit="8"/>
<path d="M447.90 414.30 L389.70 414.30 L343.41 354.81" fill="none" stroke="#1a1a1a" stroke-width="1.5" stroke-linejoin="miter"/><path d="M338.87 348.97 L348.03 353.75 L343.17 354.50 L341.25 359.03 Z" fill="#1a1a1a" stroke="#1a1a1a" stroke-width="0.7" stroke-linejoin="miter" stroke-miterlimit="8"/>
<rect x="41.8" y="58.65" width="171.6" height="99.55" fill="#fff" stroke="#1a1a1a" stroke-width="1.5"/>
<circle cx="127.75" cy="98.0" r="29.70" fill="none" stroke="#1a1a1a" stroke-width="1.1"/>
<circle cx="127.75" cy="98.0" r="18.50" fill="none" stroke="#1a1a1a" stroke-width="1.1"/>
<circle cx="127.75" cy="98.0" r="13.70" fill="none" stroke="#1a1a1a" stroke-width="1.1"/>
<circle cx="127.75" cy="98.0" r="11.60" fill="none" stroke="#1a1a1a" stroke-width="1.1"/>
<circle cx="127.75" cy="98.0" r="8.80" fill="none" stroke="#1a1a1a" stroke-width="1.1"/>
<g font-family="Liberation Sans, sans-serif" font-weight="bold" fill="#000"><text transform="translate(409.02 85.80) scale(0.7152 1)" font-size="28.78">N</text><text transform="translate(410.92 85.80) scale(0.7152 1)" font-size="28.78">N</text><text transform="translate(425.99 85.80) scale(0.5760 1)" font-size="28.78">E</text><text transform="translate(427.89 85.80) scale(0.5760 1)" font-size="28.78">E</text><text transform="translate(439.65 85.80) scale(0.6324 1)" font-size="28.78">C</text><text transform="translate(441.05 85.80) scale(0.6324 1)" font-size="28.78">C</text><text transform="translate(453.53 85.80) scale(0.6616 1)" font-size="28.78">K</text><text transform="translate(455.43 85.80) scale(0.6616 1)" font-size="28.78">K</text><text transform="translate(475.68 85.80) scale(0.6668 1)" font-size="28.78">T</text><text transform="translate(477.58 85.80) scale(0.6668 1)" font-size="28.78">T</text><text transform="translate(489.09 85.80) scale(0.6001 1)" font-size="28.78">O</text><text transform="translate(490.49 85.80) scale(0.6001 1)" font-size="28.78">O</text><text transform="translate(504.61 85.80) scale(0.6679 1)" font-size="28.78">N</text><text transform="translate(506.51 85.80) scale(0.6679 1)" font-size="28.78">N</text><text transform="translate(520.76 85.80) scale(0.5946 1)" font-size="28.78">E</text><text transform="translate(522.66 85.80) scale(0.5946 1)" font-size="28.78">E</text><text transform="translate(513.96 162.80) scale(0.7082 1)" font-size="28.34">N</text><text transform="translate(515.86 162.80) scale(0.7082 1)" font-size="28.34">N</text><text transform="translate(530.58 162.80) scale(0.5911 1)" font-size="28.34">E</text><text transform="translate(532.48 162.80) scale(0.5911 1)" font-size="28.34">E</text><text transform="translate(544.57 162.80) scale(0.6260 1)" font-size="28.34">C</text><text transform="translate(545.97 162.80) scale(0.6260 1)" font-size="28.34">C</text><text transform="translate(558.75 162.80) scale(0.6609 1)" font-size="28.34">K</text><text transform="translate(560.65 162.80) scale(0.6609 1)" font-size="28.34">K</text><text transform="translate(580.27 162.80) scale(0.6913 1)" font-size="28.34">V</text><text transform="translate(582.17 162.80) scale(0.6913 1)" font-size="28.34">V</text><text transform="translate(595.77 162.80) scale(0.5383 1)" font-size="28.34">O</text><text transform="translate(597.17 162.80) scale(0.5383 1)" font-size="28.34">O</text><text transform="translate(610.93 162.80) scale(0.6188 1)" font-size="28.34">L</text><text transform="translate(612.83 162.80) scale(0.6188 1)" font-size="28.34">L</text><text transform="translate(623.61 162.80) scale(0.6398 1)" font-size="28.34">U</text><text transform="translate(625.01 162.80) scale(0.6398 1)" font-size="28.34">U</text><text transform="translate(638.09 162.80) scale(0.8477 1)" font-size="28.34">M</text><text transform="translate(639.99 162.80) scale(0.8477 1)" font-size="28.34">M</text><text transform="translate(659.54 162.80) scale(0.6100 1)" font-size="28.34">E</text><text transform="translate(661.44 162.80) scale(0.6100 1)" font-size="28.34">E</text><text transform="translate(454.97 424.10) scale(0.6479 1)" font-size="28.34">B</text><text transform="translate(456.87 424.10) scale(0.6479 1)" font-size="28.34">B</text><text transform="translate(470.47 424.10) scale(0.6503 1)" font-size="28.34">R</text><text transform="translate(472.37 424.10) scale(0.6503 1)" font-size="28.34">R</text><text transform="translate(486.21 424.10) scale(0.7838 1)" font-size="28.34">I</text><text transform="translate(488.11 424.10) scale(0.7838 1)" font-size="28.34">I</text><text transform="translate(493.68 424.10) scale(0.6443 1)" font-size="28.34">D</text><text transform="translate(495.08 424.10) scale(0.6443 1)" font-size="28.34">D</text><text transform="translate(509.48 424.10) scale(0.6222 1)" font-size="28.34">G</text><text transform="translate(510.88 424.10) scale(0.6222 1)" font-size="28.34">G</text><text transform="translate(524.34 424.10) scale(0.6100 1)" font-size="28.34">E</text><text transform="translate(526.24 424.10) scale(0.6100 1)" font-size="28.34">E</text><text transform="translate(544.37 424.10) scale(0.6805 1)" font-size="28.34">V</text><text transform="translate(546.27 424.10) scale(0.6805 1)" font-size="28.34">V</text><text transform="translate(559.36 424.10) scale(0.6347 1)" font-size="28.34">O</text><text transform="translate(560.76 424.10) scale(0.6347 1)" font-size="28.34">O</text><text transform="translate(574.40 424.10) scale(0.6875 1)" font-size="28.34">L</text><text transform="translate(576.30 424.10) scale(0.6875 1)" font-size="28.34">L</text><text transform="translate(587.15 424.10) scale(0.6750 1)" font-size="28.34">U</text><text transform="translate(588.55 424.10) scale(0.6750 1)" font-size="28.34">U</text><text transform="translate(601.69 424.10) scale(0.8477 1)" font-size="28.34">M</text><text transform="translate(603.59 424.10) scale(0.8477 1)" font-size="28.34">M</text><text transform="translate(622.81 424.10) scale(0.6289 1)" font-size="28.34">E</text><text transform="translate(624.71 424.10) scale(0.6289 1)" font-size="28.34">E</text><text transform="translate(417.86 477.90) scale(0.6438 1)" font-size="28.78">B</text><text transform="translate(419.76 477.90) scale(0.6438 1)" font-size="28.78">B</text><text transform="translate(433.50 477.90) scale(0.6240 1)" font-size="28.78">R</text><text transform="translate(435.40 477.90) scale(0.6240 1)" font-size="28.78">R</text><text transform="translate(449.10 477.90) scale(0.6754 1)" font-size="28.78">I</text><text transform="translate(451.00 477.90) scale(0.6754 1)" font-size="28.78">I</text><text transform="translate(456.37 477.90) scale(0.6912 1)" font-size="28.78">D</text><text transform="translate(457.77 477.90) scale(0.6912 1)" font-size="28.78">D</text><text transform="translate(472.70 477.90) scale(0.5922 1)" font-size="28.78">G</text><text transform="translate(474.10 477.90) scale(0.5922 1)" font-size="28.78">G</text><text transform="translate(487.14 477.90) scale(0.6008 1)" font-size="28.78">E</text><text transform="translate(489.04 477.90) scale(0.6008 1)" font-size="28.78">E</text><text transform="translate(506.88 477.90) scale(0.6727 1)" font-size="28.78">T</text><text transform="translate(508.78 477.90) scale(0.6727 1)" font-size="28.78">T</text><text transform="translate(520.36 477.90) scale(0.6251 1)" font-size="28.78">O</text><text transform="translate(521.76 477.90) scale(0.6251 1)" font-size="28.78">O</text><text transform="translate(535.80 477.90) scale(0.6738 1)" font-size="28.78">N</text><text transform="translate(537.70 477.90) scale(0.6738 1)" font-size="28.78">N</text><text transform="translate(551.94 477.90) scale(0.6008 1)" font-size="28.78">E</text><text transform="translate(553.84 477.90) scale(0.6008 1)" font-size="28.78">E</text><text transform="translate(45.72 153.50) scale(0.7220 1)" font-size="28.63">P</text><text transform="translate(47.62 153.50) scale(0.7220 1)" font-size="28.63">P</text><text transform="translate(60.81 153.50) scale(0.7177 1)" font-size="28.63">.</text><text transform="translate(62.71 153.50) scale(0.7177 1)" font-size="28.63">.</text><text transform="translate(67.28 153.50) scale(0.7088 1)" font-size="28.63">U</text><text transform="translate(68.68 153.50) scale(0.7088 1)" font-size="28.63">U</text><text transform="translate(82.71 153.50) scale(0.7177 1)" font-size="28.63">.</text><text transform="translate(84.61 153.50) scale(0.7177 1)" font-size="28.63">.</text><text transform="translate(96.74 153.50) scale(0.6762 1)" font-size="28.63">S</text><text transform="translate(98.14 153.50) scale(0.6762 1)" font-size="28.63">S</text><text transform="translate(111.57 153.50) scale(0.5914 1)" font-size="28.63">E</text><text transform="translate(113.47 153.50) scale(0.5914 1)" font-size="28.63">E</text><text transform="translate(125.13 153.50) scale(0.6125 1)" font-size="28.63">L</text><text transform="translate(127.03 153.50) scale(0.6125 1)" font-size="28.63">L</text><text transform="translate(137.84 153.50) scale(0.5540 1)" font-size="28.63">E</text><text transform="translate(139.74 153.50) scale(0.5540 1)" font-size="28.63">E</text><text transform="translate(151.70 153.50) scale(0.5929 1)" font-size="28.63">C</text><text transform="translate(153.10 153.50) scale(0.5929 1)" font-size="28.63">C</text><text transform="translate(165.50 153.50) scale(0.6346 1)" font-size="28.63">T</text><text transform="translate(167.40 153.50) scale(0.6346 1)" font-size="28.63">T</text><text transform="translate(178.36 153.50) scale(0.6283 1)" font-size="28.63">O</text><text transform="translate(179.76 153.50) scale(0.6283 1)" font-size="28.63">O</text><text transform="translate(194.00 153.50) scale(0.6272 1)" font-size="28.63">R</text><text transform="translate(195.90 153.50) scale(0.6272 1)" font-size="28.63">R</text></g>
</svg>
</body></html>
